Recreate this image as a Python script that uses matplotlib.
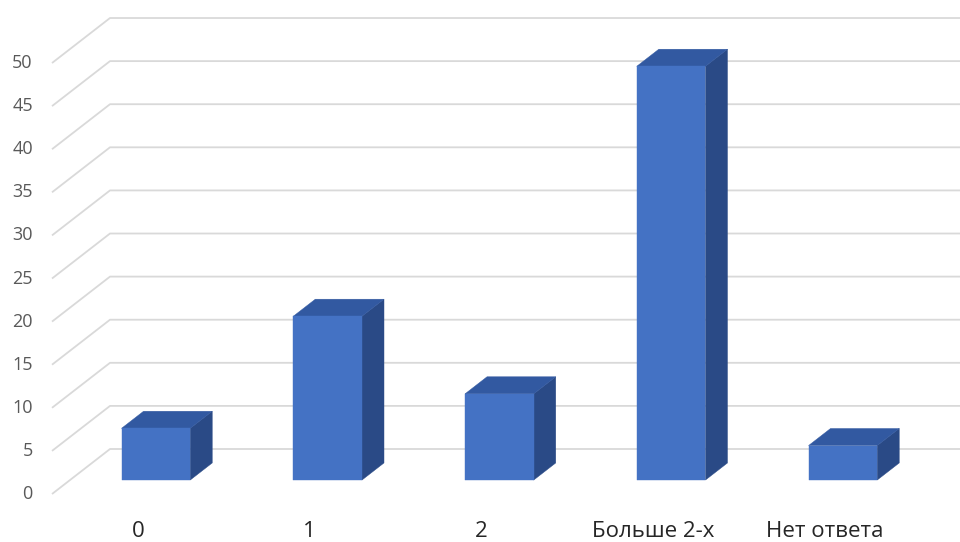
import matplotlib
matplotlib.use("Agg")
import matplotlib.pyplot as plt
from matplotlib.patches import Polygon

# Survey answers
categories = ["0", "1", "2", "Больше 2-х", "Нет ответа"]
values = [6, 19, 10, 48, 4]
y_ticks = [0, 5, 10, 15, 20, 25, 30, 35, 40, 45, 50]

# Pseudo-3D geometry (category units on x, value units on y)
DEPTH_X = 0.3377       # shift of the back wall along x
DEPTH_Y = 5.22         # shift of the back wall along y
BAR_W = 0.40
BAR_D0, BAR_D1 = 0.31, 0.69   # bar depth range as fraction of floor depth

FRONT = "#4472C4"
TOP = "#3259A1"
SIDE = "#2A4A86"
GRID = "#D9D9D9"

plt.rcParams["font.family"] = ["Open Sans", "DejaVu Sans"]

fig = plt.figure(figsize=(9.6, 5.42), dpi=100)
ax = fig.add_axes([0, 0, 1, 1])
ax.set_xlim(-0.3028, 5.2867)
ax.set_ylim(-5.568, 57.31)
ax.axis("off")

x_end = 6.0

# Walls: diagonal on the side wall, horizontal on the back wall
for t in y_ticks:
    ax.plot([0, DEPTH_X, x_end], [t, t + DEPTH_Y, t + DEPTH_Y],
            color=GRID, lw=1.3, solid_capstyle="butt", zorder=1)
    ax.text(-0.112, t, str(t), ha="right", va="center",
            fontsize=13, color="#595959")


def face(pts, color):
    ax.add_patch(Polygon(pts, closed=True, facecolor=color,
                         edgecolor=color, lw=0.3, zorder=3))


for i, (lab, v) in enumerate(zip(categories, values)):
    c = i + 0.5
    x0 = c - BAR_W / 2 + DEPTH_X * BAR_D0
    x1 = c + BAR_W / 2 + DEPTH_X * BAR_D0
    yb = DEPTH_Y * BAR_D0
    yt = v + DEPTH_Y * BAR_D0
    ddx = DEPTH_X * (BAR_D1 - BAR_D0)
    ddy = DEPTH_Y * (BAR_D1 - BAR_D0)
    # side face
    face([(x1, yb), (x1 + ddx, yb + ddy), (x1 + ddx, yt + ddy), (x1, yt)], SIDE)
    # top face
    face([(x0, yt), (x1, yt), (x1 + ddx, yt + ddy), (x0 + ddx, yt + ddy)], TOP)
    # front face
    face([(x0, yb), (x1, yb), (x1, yt), (x0, yt)], FRONT)
    ax.text(c, -4.4, lab, ha="center", va="center",
            fontsize=16, color="#262626")

fig.savefig("out.png", dpi=100)
